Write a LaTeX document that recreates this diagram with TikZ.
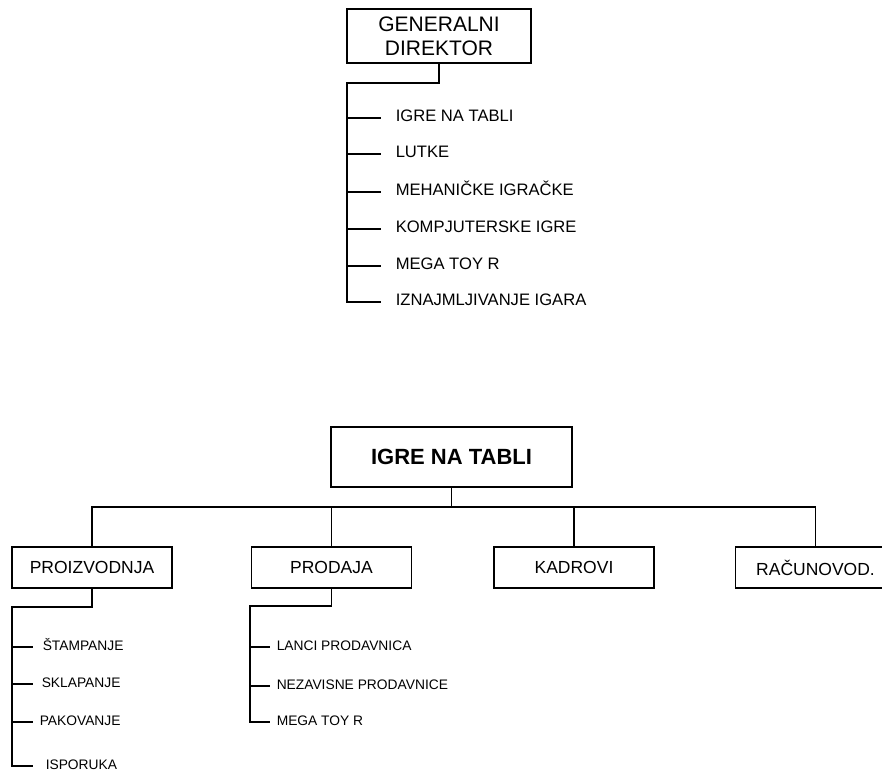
\documentclass[tikz,border=0pt]{standalone}
\usepackage{fontspec}
\setmainfont{Liberation Sans}
\usetikzlibrary{positioning}

\begin{document}
\begin{tikzpicture} %
		[
			x=1pt, y=-1pt,
			line width=1.5pt,
			unit/.style={
				draw,
				rectangle,
				inner sep=0pt,
				align=center,
				minimum width=160pt,
				minimum height=41pt,
			},
			boss/.style={unit, minimum width=184pt, minimum height=54pt, font={\fontsize{21}{24}\selectfont}},
			head/.style={unit, minimum width=241pt, minimum height=60pt, font={\fontsize{22}{26}\selectfont\bfseries}},
			dept/.style={unit, font={\fontsize{17.5}{20}\selectfont}},
			item/.style={anchor=west, inner ysep=0pt, text height=0.716em, text depth=0pt},
			bigitem/.style={item, inner xsep=14pt, font={\fontsize{16.6}{19}\selectfont}},
			smallitem/.style={item, font={\fontsize{13.8}{16}\selectfont}},
		]
		\useasboundingbox (0,0) rectangle (882,773);
		\clip (0,0) rectangle (882,773);

		% upper chart
		\node[boss] (gd) at (439,36) {GENERALNI\\DIREKTOR};
		\coordinate (gdTurn) at (347,83);
		\node[bigitem] (g1) at (381,118) {IGRE NA TABLI};
		\node[bigitem] (g2) at (381,154) {LUTKE};
		\node[bigitem] (g3) at (381,192) {MEHANIČKE IGRAČKE};
		\node[bigitem] (g4) at (381,229) {KOMPJUTERSKE IGRE};
		\node[bigitem] (g5) at (381,266) {MEGA TOY R};
		\node[bigitem] (g6) at (381,302) {IZNAJMLJIVANJE IGARA};

		\draw (gd.south) |- (gdTurn) |- (g6.west);
		\foreach \i in {1,...,5}
			\draw (g\i.west -| gdTurn) -- (g\i.west);

		% lower chart
		\node[head] (it) at (451.5,457) {IGRE NA TABLI};
		\coordinate (bus) at (451.5,507);
		\node[dept] (d1) at (92,567.5) {PROIZVODNJA};
		\node[dept, right =78pt of d1] (d2) {PRODAJA};
		\node[dept, right =81pt of d2] (d3) {KADROVI};
		\node[dept, right =80pt of d3] (d4) {RAČUNOVOD.};

		\draw (it.south) -- (bus);
		\draw (d1.north) |- (bus) -| (d4.north);
		\draw (d2.north) -- (d2.north |- bus);
		\draw (d3.north) -- (d3.north |- bus);

		% proizvodnja
		\coordinate (pTurn) at (12,607);
		\node[smallitem, inner xsep=9pt] (p1) at (33,647) {ŠTAMPANJE};
		\node[smallitem, inner xsep=8pt] (p2) at (33,684) {SKLAPANJE};
		\node[smallitem, inner xsep=6pt] (p3) at (33,722) {PAKOVANJE};
		\node[smallitem, inner xsep=12pt] (p4) at (33,766) {ISPORUKA};

		\draw (d1.south) |- (pTurn) |- (p4.west);
		\foreach \i in {1,2,3}
			\draw (p\i.west -| pTurn) -- (p\i.west);

		% prodaja
		\coordinate (rTurn) at (250,606);
		\node[smallitem, inner xsep=6pt] (r1) at (270,647) {LANCI PRODAVNICA};
		\node[smallitem, inner xsep=6pt] (r2) at (270,686) {NEZAVISNE PRODAVNICE};
		\node[smallitem, inner xsep=6pt] (r3) at (270,722) {MEGA TOY R};

		\draw (d2.south) |- (rTurn) |- (r3.west);
		\foreach \i in {1,2}
			\draw (r\i.west -| rTurn) -- (r\i.west);
	\end{tikzpicture}
\end{document}
